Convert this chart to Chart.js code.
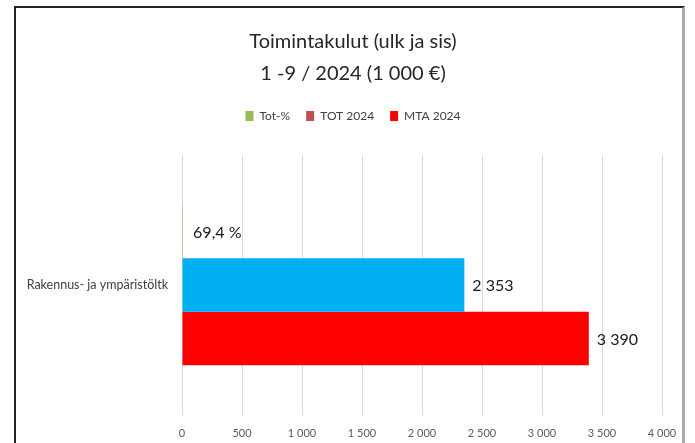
<!DOCTYPE html>
<html>
<head>
<meta charset="utf-8">
<script src="https://cdn.jsdelivr.net/npm/chart.js@4"></script>
<style>
  html, body { margin: 0; padding: 0; background: #fff; }
  #wrap { position: relative; width: 695px; height: 443px; overflow: hidden; }
  #frame {
    position: absolute; left: 14px; top: 6px; width: 671px; height: 460px;
    border-top: 2px solid #222; border-left: 2px solid #222; border-right: 3px solid #aaa;
    box-sizing: border-box;
  }
  canvas { position: absolute; left: 0; top: 0; }
</style>
</head>
<body>
<div id="wrap">
  <div id="frame"></div>
  <canvas id="chart" width="695" height="443"></canvas>
</div>
<script>
// --- DATA ---
const categories = ['Rakennus- ja ympäristöltk'];
const seriesNames = ['Tot-%', 'TOT 2024', 'MTA 2024'];
const totPct = [0.694];      // share, shown as percent
const tot2024 = [2353];
const mta2024 = [3390];
const barColors = ['#9BBB59', '#00B0F0', '#FF0000'];
const legendColors = ['#9BBB59', '#C0504D', '#FF0000'];
const xTicks = [0, 500, 1000, 1500, 2000, 2500, 3000, 3500, 4000];

const FONT = 'Lato, "Open Sans", sans-serif';

function fmtThousands(v) {
  return String(Math.round(v)).replace(/\B(?=(\d{3})+(?!\d))/g, ' ');
}
function fmtLabel(dsIndex, v) {
  if (dsIndex === 0) return (v * 100).toFixed(1).replace('.', ',') + ' %';
  return fmtThousands(v);
}

// value labels at the end of each bar
const valueLabels = {
  id: 'valueLabels',
  afterDatasetsDraw(chart) {
    const ctx = chart.ctx;
    ctx.save();
    ctx.font = '16px ' + FONT;
    ctx.fillStyle = '#1a1a1a';
    ctx.textBaseline = 'middle';
    ctx.textAlign = 'left';
    chart.data.datasets.forEach((ds, i) => {
      chart.getDatasetMeta(i).data.forEach((bar, j) => {
        ctx.fillText(fmtLabel(i, ds.data[j]), bar.x + (i === 0 ? 11 : 8), bar.y + 1);
      });
    });
    ctx.restore();
  }
};

// legend needs more room below it than Chart.js gives
const legendSpace = {
  id: 'legendSpace',
  beforeInit(chart) {
    const fit = chart.legend.fit;
    chart.legend.fit = function () {
      fit.bind(chart.legend)();
      this.height = 61;
    };
  },
  // title and legend sit a bit right of the canvas centre
  afterLayout(chart) {
    [chart.titleBlock, chart.legend].forEach(b => {
      b.left += 44;
    });
  }
};

const ctx = document.getElementById('chart').getContext('2d');
new Chart(ctx, {
  type: 'bar',
  data: {
    labels: categories,
    datasets: [
      { label: seriesNames[0], data: totPct, backgroundColor: barColors[0] },
      { label: seriesNames[1], data: tot2024, backgroundColor: barColors[1] },
      { label: seriesNames[2], data: mta2024, backgroundColor: barColors[2] }
    ]
  },
  options: {
    indexAxis: 'y',
    responsive: false,
    animation: false,
    categoryPercentage: 0.617,
    barPercentage: 1.0,
    layout: { padding: { top: 26, right: 33, bottom: 0, left: 0 } },
    plugins: {
      title: {
        display: true,
        text: ['Toimintakulut (ulk ja sis)', '1 -9 / 2024 (1 000 €)'],
        color: '#262626',
        font: { family: FONT, size: 20, weight: 'normal', lineHeight: 1.6 },
        padding: { top: 0, bottom: 4 }
      },
      legend: {
        display: true,
        labels: {
          color: '#404040',
          font: { family: FONT, size: 12 },
          boxWidth: 8,
          boxHeight: 10,
          padding: 16,
          generateLabels(chart) {
            const items = Chart.defaults.plugins.legend.labels.generateLabels(chart);
            items.forEach((it, i) => {
              it.fillStyle = legendColors[i];
              it.strokeStyle = legendColors[i];
              it.lineWidth = 0;
            });
            return items;
          }
        }
      },
      tooltip: { enabled: false }
    },
    scales: {
      x: {
        min: 0,
        max: 4000,
        afterBuildTicks(scale) { scale.ticks = xTicks.map(v => ({ value: v })); },
        afterFit(scale) { scale.height = 28; },
        grid: { color: '#D9D9D9', lineWidth: 1, drawTicks: false },
        border: { display: false },
        ticks: {
          color: '#595959',
          font: { family: FONT, size: 11 },
          padding: 12,
          maxRotation: 0,
          callback: v => fmtThousands(v)
        }
      },
      y: {
        afterFit(scale) { scale.width = 182; },
        grid: { display: false },
        border: { display: false },
        ticks: {
          color: '#404040',
          font: { family: FONT, size: 12.5 },
          padding: 6
        }
      }
    }
  },
  plugins: [valueLabels, legendSpace]
});
</script>
</body>
</html>
